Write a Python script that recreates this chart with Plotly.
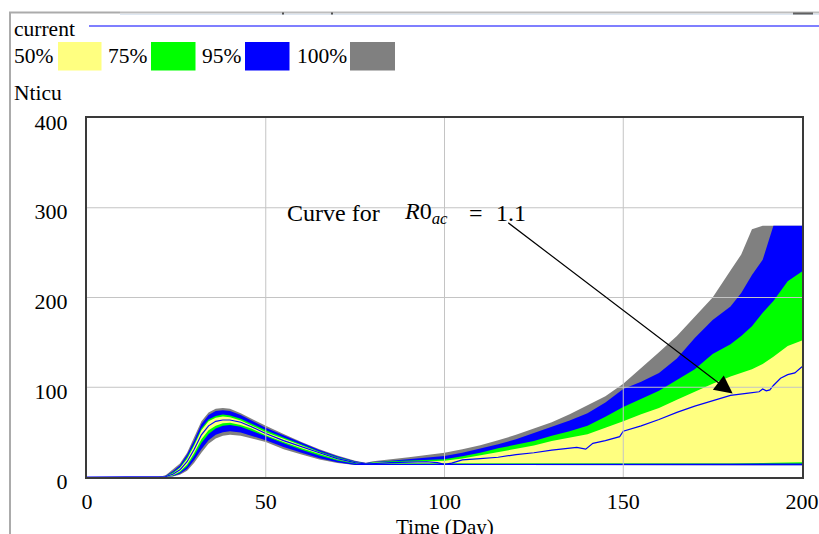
import plotly.graph_objects as go

# ---------------- data ----------------
days = [0, 20, 22, 24, 26, 28, 30, 32, 34, 36, 38, 40, 43, 46, 50, 55, 60, 65, 70, 75, 78,
        80, 85, 90, 95, 100, 105, 110, 115, 120, 125, 130, 135, 140, 145, 150, 155, 160,
        165, 170, 175, 180, 183, 186, 189, 192, 196, 200]

p100_hi = [0, 0, 2, 8, 15, 27, 44, 62, 72, 76, 77, 76, 71, 65, 57, 48, 39, 31, 24, 18, 16,
           17.5, 19.5, 22, 24.5, 27, 31, 35.5, 41, 47, 54, 61, 70, 80, 90, 104, 121, 139,
           157, 178, 200, 230, 248, 276, 280, 280, 280, 280]
p100_lo = [0, 0, 0, 0.5, 2.5, 7, 16, 27, 37, 43, 46, 47, 46, 43, 39, 31, 25, 19.5, 15.5, 13.4, 13,
           13, 13, 13, 13, 13, 13, 13, 13, 13, 13, 13, 13, 13, 13, 13, 13, 13,
           13, 13, 13, 13, 13, 13, 13, 13, 13, 13]

p95_hi = [0, 0, 1.5, 6.5, 13, 25, 41, 59, 69, 73.5, 74.5, 73.5, 69, 63, 55, 46.5, 38, 30, 23, 17.5, 15.5,
          16.8, 18, 20, 21.5, 23.5, 27, 31.5, 36.5, 42, 49, 56, 63, 71, 83, 98, 106, 116,
          132, 155, 175, 190, 205, 225, 242, 280, 280, 280]
p95_lo = [0, 0, 0, 0.8, 3.5, 9, 19, 31, 41, 47, 50, 51, 49.5, 46, 41, 33.5, 27, 21, 16.5, 13.5, 13.2,
          13.2, 13.2, 13.2, 13.2, 13.2, 13.2, 13.2, 13.2, 13.2, 13.2, 13.2, 13.2, 13.2, 13.2, 13.2, 13.2, 13.2,
          13.2, 13.2, 13.2, 13.2, 13.2, 13.2, 13.2, 13.2, 13.2, 13.2]

p75_hi = [0, 0, 1, 5, 11, 22, 37, 54, 64, 68, 69.5, 68.5, 65, 59.5, 52, 44, 36, 28.5, 22, 17, 15,
          16.3, 17.5, 18.3, 19, 19.8, 23, 27, 32, 36, 40, 46, 51, 57, 67, 78, 87, 96,
          108, 120, 137, 148, 157, 168, 183, 196, 218, 229]
p75_lo = [0, 0, 0, 1.5, 5, 12, 24, 38, 48, 54, 57, 58, 56, 52, 45.5, 37.5, 30.5, 24, 18.5, 14.8, 14.5,
          14.5, 14.5, 14.5, 14.5, 14.5, 14.5, 14.5, 14.5, 14.5, 14.5, 14.5, 14.5, 14.5, 14.5, 14.5, 14.5, 14.5,
          14.5, 14.5, 14.5, 14.5, 14.5, 14.5, 14.8, 15, 15, 15]

p50_hi = [0, 0, 0.8, 4, 10, 20, 35, 52, 62, 66, 67.5, 66.5, 63, 57.5, 50, 42.5, 35, 27.5, 21, 16.5, 15,
          15.8, 16.5, 17.2, 17.6, 18, 20.5, 24, 27.5, 31, 35, 40, 44, 47.5, 55, 62, 70, 77,
          86, 95, 104, 112, 116, 120, 126, 134, 146, 152]
p50_lo = [0, 0, 0, 2, 6, 14, 27, 42, 52, 57, 60, 60.5, 58, 54, 46.5, 39, 32, 25.5, 19.5, 15.5, 14.8,
          15.2, 15.2, 15.2, 15.2, 15.2, 15.2, 15.2, 15.2, 15.2, 15.2, 15.2, 15.2, 15.2, 15.2, 15.2, 15.2, 15.2,
          15.2, 15.2, 15.2, 15.2, 15.2, 15.2, 15.5, 16, 16.5, 16.5]

cur_days = [0, 20, 22, 24, 26, 28, 30, 32, 34, 36, 38, 40, 43, 46, 50, 55, 60, 65, 70, 75, 78,
            80, 85, 90, 95, 98, 100, 102, 105, 110, 115, 120, 125, 130, 134, 137, 139.5, 141.5,
            145, 149, 150, 155, 160, 165, 170, 175, 180, 185, 188, 189, 190, 191, 192, 194,
            196, 198, 200]
cur_vals = [0, 0, 0.5, 3, 8, 17, 31, 47, 57, 62, 63.5, 63.5, 61, 56, 48.5, 40.5, 33.5, 27, 20.5, 16, 14.5,
            15, 16, 16.5, 17, 16, 14, 15.5, 19, 20.5, 22, 25, 27, 30, 32, 33, 31, 37.5,
            40.5, 45, 51, 57, 64, 72, 79, 85, 91, 93.5, 95, 98, 96, 97, 102, 110,
            114, 116, 123]

band_labels = ["50%", "75%", "95%", "100%"]
band_colors = ["#FFFF80", "#00FF00", "#0000FF", "#808080"]
x_ticks = [0, 50, 100, 150, 200]
y_ticks = [0, 100, 200, 300, 400]

# ---------------- figure ----------------
W, H = 819, 534
PL, PR, PT, PB = 87, 802, 118, 477
FONT = "Liberation Serif, Times New Roman, serif"


def xp(px):
    return (px - PL) / (PR - PL)


def yp(py):
    return (PB - py) / (PB - PT)


fig = go.Figure()

bands = [(p100_hi, p100_lo, band_colors[3]),
         (p95_hi, p95_lo, band_colors[2]),
         (p75_hi, p75_lo, band_colors[1]),
         (p50_hi, p50_lo, band_colors[0])]
for hi, lo, col in bands:
    fig.add_trace(go.Scatter(
        x=days + days[::-1], y=hi + lo[::-1],
        fill="toself", fillcolor=col, mode="lines",
        line=dict(width=0, color=col), hoverinfo="skip", showlegend=False))

fig.add_trace(go.Scatter(x=cur_days, y=cur_vals, mode="lines",
                         line=dict(color="#0000FF", width=1.2),
                         hoverinfo="skip", showlegend=False))

shapes = []
# gridlines above the fills
for t in x_ticks[1:-1]:
    shapes.append(dict(type="line", xref="x", yref="paper", x0=t, x1=t, y0=0, y1=1,
                       line=dict(color="#C4C4C4", width=1), layer="above"))
for t in y_ticks[1:-1]:
    shapes.append(dict(type="line", xref="paper", yref="y", x0=0, x1=1, y0=t, y1=t,
                       line=dict(color="#C4C4C4", width=1), layer="above"))

# outer window frame
shapes.append(dict(type="line", xref="paper", yref="paper", x0=xp(10), x1=xp(10),
                   y0=yp(12), y1=yp(540), line=dict(color="#ABABAB", width=2)))
shapes.append(dict(type="line", xref="paper", yref="paper", x0=xp(9), x1=xp(120),
                   y0=yp(12.5), y1=yp(12.5), line=dict(color="#ABABAB", width=2)))
shapes.append(dict(type="line", xref="paper", yref="paper", x0=xp(120), x1=xp(819),
                   y0=yp(12.5), y1=yp(12.5), line=dict(color="#BDBDBD", width=2)))
shapes.append(dict(type="line", xref="paper", yref="paper", x0=xp(120), x1=xp(819),
                   y0=yp(14.3), y1=yp(14.3), line=dict(color="#D6E2EE", width=1)))
for mx in (282, 331):
    shapes.append(dict(type="line", xref="paper", yref="paper", x0=xp(mx), x1=xp(mx + 2),
                       y0=yp(13.5), y1=yp(13.5), line=dict(color="#505050", width=2)))
shapes.append(dict(type="line", xref="paper", yref="paper", x0=xp(793), x1=xp(813),
                   y0=yp(13.5), y1=yp(13.5), line=dict(color="#606060", width=2)))

# legend line for "current"
shapes.append(dict(type="line", xref="paper", yref="paper", x0=xp(89), x1=xp(820),
                   y0=yp(26), y1=yp(26), line=dict(color="#0000FF", width=1.2)))

# legend boxes
box_x = [(58, 101.5), (151, 195.5), (245, 289.5), (350, 395)]
text_x = [12, 106, 200, 294.5]
annotations = []
for (bx0, bx1), tx, lab, col in zip(box_x, text_x, band_labels, band_colors):
    shapes.append(dict(type="rect", xref="paper", yref="paper", x0=xp(bx0), x1=xp(bx1),
                       y0=yp(70.5), y1=yp(42), fillcolor=col, line=dict(width=0)))
    annotations.append(dict(text=lab, xref="paper", yref="paper", x=xp(tx), y=yp(56),
                            xanchor="left", yanchor="middle", showarrow=False,
                            font=dict(family=FONT, size=21.5, color="black")))

annotations.append(dict(text="current", xref="paper", yref="paper", x=xp(12), y=yp(29),
                        xanchor="left", yanchor="middle", showarrow=False,
                        font=dict(family=FONT, size=21.5, color="black")))
annotations.append(dict(text="Nticu", xref="paper", yref="paper", x=xp(12), y=yp(93),
                        xanchor="left", yanchor="middle", showarrow=False,
                        font=dict(family=FONT, size=21.5, color="black")))
annotations.append(dict(text="Time (Day)", xref="paper", yref="paper", x=0.5, y=yp(527),
                        xanchor="center", yanchor="middle", showarrow=False,
                        font=dict(family=FONT, size=21, color="black")))

# annotation text (math-style spacing) and arrow
CURVE_FONT = dict(family=FONT, size=24, color="black")
annotations.append(dict(text="Curve for", xref="paper", yref="paper", x=xp(285), y=yp(213),
                        xanchor="left", yanchor="middle", showarrow=False, font=CURVE_FONT))
annotations.append(dict(text="<i>R</i>0<sub><i>ac</i></sub>", xref="paper", yref="paper",
                        x=xp(402), y=yp(213), xanchor="left", yanchor="middle",
                        showarrow=False, font=CURVE_FONT))
annotations.append(dict(text="=", xref="paper", yref="paper", x=xp(467), y=yp(213),
                        xanchor="left", yanchor="middle", showarrow=False, font=CURVE_FONT))
annotations.append(dict(text="1.1", xref="paper", yref="paper", x=xp(494), y=yp(213),
                        xanchor="left", yanchor="middle", showarrow=False, font=CURVE_FONT))
annotations.append(dict(text="", x=180.6, y=93, xref="x", yref="y",
                        ax=117.4, ay=284.5, axref="x", ayref="y",
                        showarrow=True, arrowhead=2, arrowsize=3, arrowwidth=1.2,
                        arrowcolor="black"))

fig.update_layout(
    width=W, height=H, autosize=False,
    margin=dict(l=PL, r=W - PR, t=PT, b=H - PB, pad=0, autoexpand=False),
    paper_bgcolor="white", plot_bgcolor="white",
    font=dict(family=FONT, size=21, color="black"),
    shapes=shapes, annotations=annotations,
    showlegend=False,
)
fig.update_xaxes(range=[0, 200], tickvals=x_ticks, ticks="", showgrid=False,
                 zeroline=False, showline=True, mirror=True, linecolor="#3A3A3A",
                 linewidth=2, ticklabelstandoff=4, automargin=False,
                 tickfont=dict(family=FONT, size=22, color="black"))
fig.update_yaxes(range=[0, 400], tickvals=y_ticks, ticks="", showgrid=False,
                 zeroline=False, showline=True, mirror=True, linecolor="#3A3A3A",
                 linewidth=2, ticklabelstandoff=13, ticklabelshift=4, automargin=False,
                 tickfont=dict(family=FONT, size=22, color="black"))

fig.write_html("out.html")
